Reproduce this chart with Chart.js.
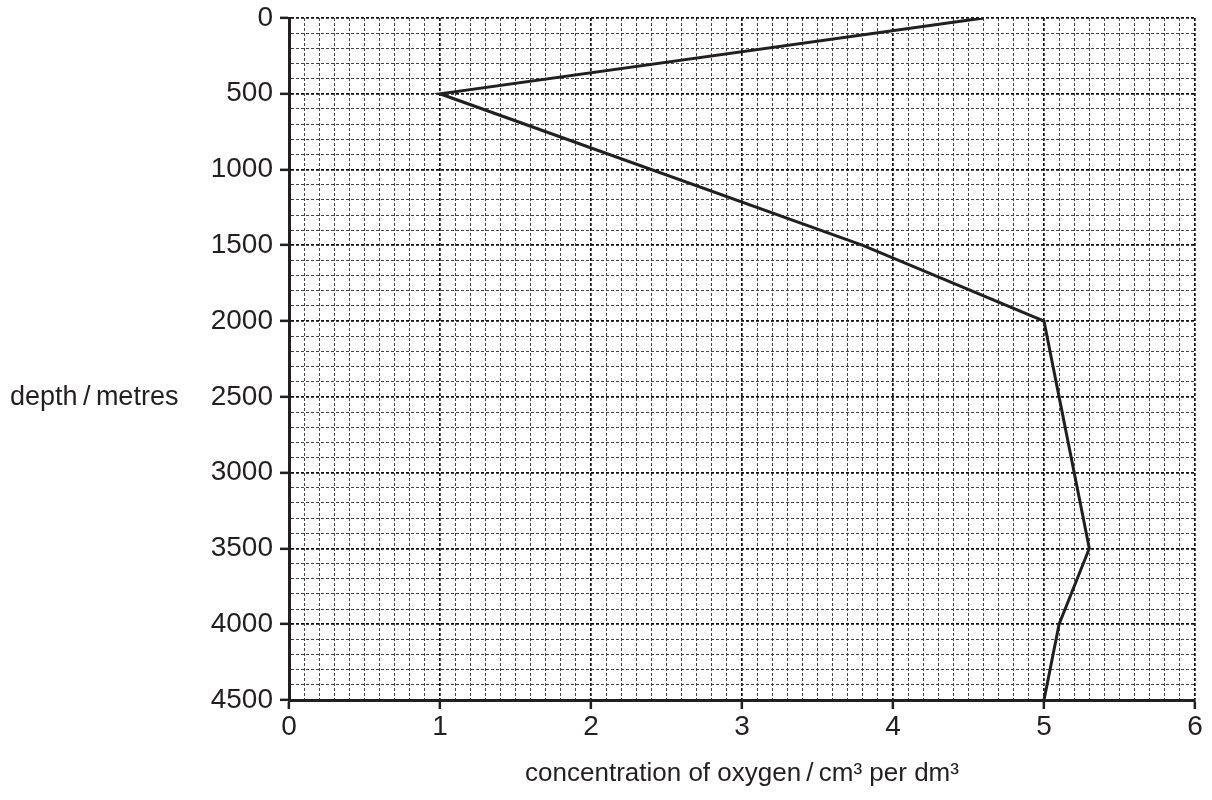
<!DOCTYPE html>
<html>
<head>
<meta charset="utf-8">
<title>Oxygen concentration with depth</title>
<script src="https://cdn.jsdelivr.net/npm/chart.js@4"></script>
<style>
  html, body { margin: 0; padding: 0; background: #fff; }
  #wrap { width: 1212px; height: 800px; }
</style>
</head>
<body>
<div id="wrap"><canvas id="oxy__chart" width="1212" height="800"></canvas></div>
<script>
// values
const depths = [0, 500, 1500, 2000, 3500, 4000, 4500];
const oxygen = [4.6, 1.0, 3.8, 5.0, 5.3, 5.1, 5.0];

const xMin = 0, xMax = 6, xStep = 0.1, xMajor = 1;
const yMin = 0, yMax = 4500, yStep = 100, yMajor = 500;

const xTitle = "concentration of oxygen\u2009/\u2009cm\u00b3 per dm\u00b3";
const yTitle = "depth\u2009/\u2009metres";

const ink = "#231f20";
const font = "'Liberation Sans', Arial, Helvetica, sans-serif";

function isMajor(v, every) {
    const r = v / every;
    return Math.abs(r - Math.round(r)) < 1e-6;
}

const points = depths.map((d, i) => ({ x: oxygen[i], y: d }));

// horizontal y title, drawn left of the tick labels
const sideTitle = {
    id: 'sideTitle',
    afterDraw(chart) {
        const ctx = chart.ctx;
        const y = chart.scales.y.getPixelForValue(2500);
        ctx.save();
        ctx.font = "27px " + font;
        ctx.fillStyle = ink;
        ctx.textAlign = 'left';
        ctx.textBaseline = 'middle';
        ctx.fillText(yTitle, 10, y + 1);
        ctx.restore();
    }
};

const ctxOx = document.getElementById("oxy__chart");
new Chart(ctxOx, {
    type: 'scatter',
    data: {
        datasets: [{
            label: "oxygen",
            data: points,
            showLine: true,
            borderColor: ink,
            borderWidth: 3,
            pointRadius: 0,
            pointHoverRadius: 0,
            tension: 0,
            fill: false
        }]
    },
    options: {
        responsive: false,
        animation: false,
        events: [],
        layout: { padding: { top: 18, right: 17, left: 0, bottom: 0 } },
        plugins: {
            legend: { display: false },
            tooltip: { enabled: false }
        },
        scales: {
            x: {
                type: 'linear',
                min: xMin,
                max: xMax,
                afterFit(scale) {
                    scale.height = 100;
                    scale.paddingLeft = 0;
                    scale.paddingRight = 0;
                },
                ticks: {
                    stepSize: xStep,
                    autoSkip: false,
                    maxRotation: 0,
                    padding: 1,
                    color: ink,
                    font: { family: font, size: 28 },
                    callback: (v) => isMajor(v, xMajor) ? String(Math.round(v)) : ''
                },
                grid: {
                    color: (c) => isMajor(c.tick.value, xMajor) ? '#111' : '#444',
                    lineWidth: (c) => isMajor(c.tick.value, xMajor) ? 1.7 : 1,
                    tickLength: 9,
                    tickWidth: 2.5,
                    tickColor: (c) => isMajor(c.tick.value, xMajor) ? ink : 'rgba(0,0,0,0)'
                },
                border: { display: true, color: ink, width: 3, dash: [3, 2] },
                title: {
                    display: true,
                    text: xTitle,
                    color: ink,
                    font: { family: font, size: 26 },
                    padding: { top: 0, bottom: 11 }
                }
            },
            y: {
                type: 'linear',
                reverse: true,
                min: yMin,
                max: yMax,
                afterFit(scale) {
                    scale.width = 289;
                    scale.paddingTop = 0;
                    scale.paddingBottom = 0;
                },
                ticks: {
                    stepSize: yStep,
                    autoSkip: false,
                    padding: 7,
                    color: ink,
                    font: { family: font, size: 28 },
                    callback: (v) => isMajor(v, yMajor) ? String(Math.round(v)) : ''
                },
                grid: {
                    color: (c) => isMajor(c.tick.value, yMajor) ? '#111' : '#444',
                    lineWidth: (c) => isMajor(c.tick.value, yMajor) ? 1.7 : 1,
                    tickLength: 9,
                    tickWidth: 2.5,
                    tickColor: (c) => isMajor(c.tick.value, yMajor) ? ink : 'rgba(0,0,0,0)'
                },
                border: { display: true, color: ink, width: 3, dash: [3, 2] }
            }
        }
    },
    plugins: [sideTitle]
});
</script>
</body>
</html>
